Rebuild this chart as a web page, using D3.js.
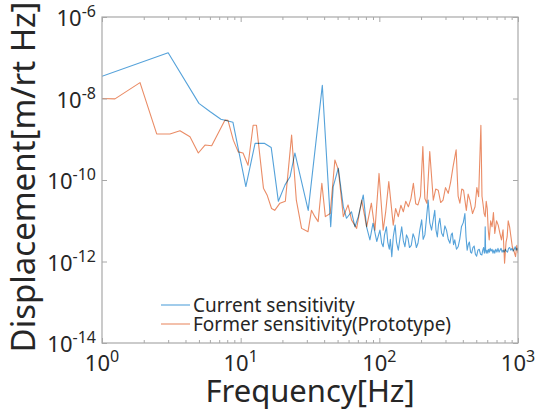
<!DOCTYPE html>
<html>
<head>
<meta charset="utf-8">
<script src="https://cdn.jsdelivr.net/npm/d3@7"></script>
<style>
  body { margin: 0; background: #fff; }
  svg { display: block; font-family: "Noto Sans", "DejaVu Sans", sans-serif; }
</style>
</head>
<body>
<svg id="chart" width="542" height="411"></svg>
<script>
// Current sensitivity: frequency [Hz] and displacement [m/rt Hz]
const currentFreq = [1, 3, 5, 6, 7.2, 8.8, 10.9, 12.7, 14.9, 16.6, 18.7, 20.9, 22.7, 24.6, 30.7, 38.8, 44.6, 46.5,
    50.6, 55, 58, 63, 66.7, 70.5, 76.6, 80.9, 85.5, 90, 95.8,
    101, 104, 106.6, 109, 112.5, 115, 118, 120, 123, 126, 130, 133, 137, 141, 145, 149, 153, 157, 161, 165,
    170, 175, 180, 185, 190, 196, 202, 207, 213, 219, 225, 231, 238, 244, 251, 256, 262, 267, 273, 281, 289,
    297, 305, 314, 323, 330, 336, 343, 350, 360, 370, 380, 391, 403, 414, 422, 430, 438, 446, 455, 463, 473,
    483, 493, 503, 514, 525, 537, 549, 557, 565, 572, 577, 580, 584, 590, 598, 606, 614, 622, 630, 640, 650,
    660, 670, 680, 692, 705, 717, 730, 742, 755, 768, 780, 795, 810, 825, 840, 855, 870, 888, 906, 922, 940,
    955, 970, 985, 1000];
const currentVal = [3.5e-8, 1.33e-7, 7.6e-9, 4.8e-9, 3.1e-9, 2.6e-9, 6.9e-11, 7.9e-10, 7.9e-10, 6.3e-10, 3.0e-11,
    7.6e-11, 1.2e-10, 4.6e-10, 1.8e-11, 2.1e-8, 7.1e-12, 6.9e-11,
    1.95e-10, 2.2e-11, 1.15e-11, 1.66e-11, 7.1e-12, 1.26e-11, 4.3e-11, 7.1e-12, 3.4e-12, 8.7e-12, 3.1e-12,
    5.9e-12, 2.8e-12, 2.3e-12, 4.5e-12, 7.1e-12, 3.0e-12, 2.0e-12, 3.5e-12, 1.32e-12, 4.0e-12, 7.8e-12, 3.0e-12,
    1.9e-12, 3.8e-12, 7.1e-12, 3.2e-12, 2.3e-12, 4.5e-12, 3.7e-12, 2.2e-12,
    2.5e-12, 4.8e-12, 3.7e-12, 2.2e-12, 2.8e-12, 6.0e-12, 1.05e-11, 3.5e-12, 4.5e-12, 1.2e-11, 3.2e-11, 9.0e-12,
    5.9e-12, 1.0e-11, 1.8e-11, 6.0e-12, 4.0e-12, 8.0e-12, 1.15e-11, 5.0e-12, 4.1e-12,
    7.5e-12, 5.9e-12, 3.5e-12, 2.8e-12, 4.5e-12, 5.0e-12, 2.6e-12, 3.4e-12, 2.0e-12, 2.3e-12, 3.5e-12, 7.1e-12,
    9.0e-12, 1.5e-11, 4.0e-12, 1.9e-12, 2.6e-12, 3.0e-12, 1.7e-12, 1.6e-12, 2.2e-12,
    2.4e-12, 1.5e-12, 1.35e-12, 1.9e-12, 2.0e-12, 1.5e-12, 1.45e-12, 1.9e-12, 2.2e-12, 1.6e-12, 2.0e-12, 7.1e-12,
    1.9e-12, 1.6e-12, 1.9e-12, 1.6e-12, 2.0e-12, 1.7e-12, 2.1e-12, 1.8e-12, 2.0e-12,
    1.6e-12, 1.9e-12, 1.6e-12, 2.0e-12, 1.7e-12, 2.1e-12, 1.7e-12, 1.9e-12, 2.1e-12, 1.7e-12, 1.9e-12, 1.7e-12,
    2.0e-12, 1.8e-12, 1.7e-12, 2.1e-12, 2.2e-12, 1.9e-12, 2.1e-12, 1.8e-12, 2.0e-12,
    2.3e-12, 1.9e-12, 2.1e-12, 1.9e-12];

// Former sensitivity (Prototype)
const formerFreq = [1, 1.24, 1.88, 2.48, 3.09, 3.65, 4.31, 4.95, 5.53, 6.18, 7.71, 8.1, 8.85, 9.6, 10.4, 11.3,
    12.3, 13, 14.6, 15.5, 16.7, 17.6, 19.2, 21, 23.3, 25.2, 27.5, 29, 30.6, 32.4, 34.3, 36.2, 38.5, 40.8, 44.2,
    47.8, 50.6, 55, 59.5, 63, 68.6, 74.6, 81, 87.6, 93, 99.5, 106.6, 111, 117, 126, 131, 137, 143, 149, 155,
    162, 169, 176, 183, 190, 198, 206, 213, 220, 231, 245, 255, 266, 277, 288, 300, 314, 327, 340, 358,
    370, 381, 393, 405, 424, 437, 450, 470, 490, 505, 520, 540, 550, 560, 570, 580, 590, 600, 610, 620, 635,
    650, 665, 680, 700, 720, 740, 760, 780, 800, 820, 835, 850, 870, 890, 910, 935, 960, 980, 1000];
const formerVal = [1.0e-8, 9.8e-9, 2.45e-8, 1.35e-9, 1.35e-9, 1.62e-9, 1.15e-9, 4.6e-10, 7.2e-10, 6.9e-10,
    2.95e-9, 2.9e-9, 9.5e-10, 4.9e-10, 4.6e-10, 2.3e-10,
    2.2e-9, 2.2e-9, 6.3e-11, 4.3e-11, 2.0e-11, 1.8e-11, 2.7e-11, 3.0e-11, 1.26e-9, 3.2e-11, 6.5e-12, 5.9e-12,
    5.4e-12, 1.8e-11, 1.26e-11, 9.5e-12, 8.3e-11, 1.26e-11, 1.5e-11,
    3.1e-10, 1.8e-10, 1.26e-11, 2.45e-11, 1.05e-11, 6.5e-12, 3.2e-11, 7.1e-12, 2.7e-11, 5.9e-12, 1.45e-10,
    5.9e-12, 1.6e-11, 9.1e-11, 7.8e-12, 2.0e-11, 1.26e-11, 2.4e-11, 1.66e-11, 3.0e-11,
    2.2e-11, 3.5e-11, 8.3e-11, 2.6e-11, 2.45e-11, 4.0e-11, 6.6e-10, 3.5e-11, 2.7e-11, 5.0e-10, 3.2e-11,
    6.0e-11, 5.6e-11, 2.8e-11, 3.2e-11, 6.5e-11, 4.7e-11, 9.0e-11, 2.1e-10, 5.5e-10,
    4.0e-11, 2.7e-11, 6.0e-11, 5.6e-11, 1.8e-11, 4.5e-11, 3.2e-11, 1.5e-11, 2.2e-11, 6.5e-11, 3.9e-11, 2.2e-9,
    4.0e-11, 2.5e-11, 1.5e-11, 1.26e-11, 3.0e-11, 2.0e-11, 6.0e-12, 3.4e-12, 1.0e-11,
    7.1e-12, 1.6e-11, 4.9e-12, 1.0e-11, 7.8e-12, 5.0e-12, 3.4e-12, 6.0e-12, 9.1e-13, 3.0e-12, 4.0e-12, 1.0e-11,
    7.1e-12, 4.0e-12, 2.3e-12, 1.8e-12, 1.32e-12, 2.5e-12, 1.6e-12];

// axis ticks
const xMajor = [1, 10, 100, 1000];
const xExp = ["0", "1", "2", "3"];
const yMajor = [1e-14, 1e-12, 1e-10, 1e-8, 1e-6];
const yExp = ["-14", "-12", "-10", "-8", "-6"];

const legendLabels = ["Current sensitivity", "Former sensitivity(Prototype)"];
const seriesColors = ["#55a2da", "#ea8c66"];

const svg = d3.select("#chart");
const mLeft = 102, mRight = 518, mTop = 17, mBottom = 343;

const x = d3.scaleLog().domain([1, 1000]).range([mLeft, mRight]);
const y = d3.scaleLog().domain([1e-14, 1e-6]).range([mBottom, mTop]);

// minor ticks 2..9 for each decade
const xMinor = [];
for (let d = 1; d < 1000; d *= 10) {
    for (let k = 2; k < 10; k++) xMinor.push(d * k);
}

const axisColor = "#a8a8a8";

// clip area for the lines
svg.append("clipPath").attr("id", "clip")
    .append("rect").attr("x", mLeft).attr("y", mTop)
    .attr("width", mRight - mLeft).attr("height", mBottom - mTop);

const lineGen = d3.line()
    .x(function(d) { return x(d[0]); })
    .y(function(d) { return y(d[1]); });

const plot = svg.append("g").attr("clip-path", "url(#clip)");
plot.append("path")
    .datum(d3.zip(currentFreq, currentVal))
    .attr("d", lineGen)
    .attr("fill", "none")
    .attr("stroke", seriesColors[0])
    .attr("stroke-width", 1.1)
    .attr("stroke-linejoin", "round");
plot.append("path")
    .datum(d3.zip(formerFreq, formerVal))
    .attr("d", lineGen)
    .attr("fill", "none")
    .attr("stroke", seriesColors[1])
    .attr("stroke-width", 1.1)
    .attr("stroke-linejoin", "round")
    .style("mix-blend-mode", "multiply");

// ticks on all four sides, pointing inward
function tickAxes(axisFn, scale, values, size, transform) {
    const g = svg.append("g")
        .attr("transform", transform)
        .call(axisFn(scale).tickValues(values).tickSize(size).tickFormat(""));
    g.select(".domain").remove();
    g.selectAll(".tick line").attr("stroke", axisColor);
}
tickAxes(d3.axisBottom, x, xMajor, -5, "translate(0," + mBottom + ")");
tickAxes(d3.axisBottom, x, xMinor, -3, "translate(0," + mBottom + ")");
tickAxes(d3.axisTop, x, xMajor, -5, "translate(0," + mTop + ")");
tickAxes(d3.axisTop, x, xMinor, -3, "translate(0," + mTop + ")");
tickAxes(d3.axisLeft, y, yMajor, -5, "translate(" + mLeft + ",0)");
tickAxes(d3.axisRight, y, yMajor, -5, "translate(" + mRight + ",0)");

// box
svg.append("rect")
    .attr("x", mLeft).attr("y", mTop)
    .attr("width", mRight - mLeft).attr("height", mBottom - mTop)
    .attr("fill", "none")
    .attr("stroke", axisColor)
    .attr("stroke-width", 1.2);

// tick labels with superscripts
const xLab = svg.append("g").selectAll("text")
    .data(xMajor)
    .enter().append("text")
    .attr("x", function(d) { return x(d); })
    .attr("y", 371)
    .attr("text-anchor", "middle")
    .attr("fill", "#262626")
    .attr("font-size", 22);
xLab.append("tspan").text("10");
xLab.append("tspan").attr("dy", -9).attr("font-size", 16)
    .text(function(d, i) { return xExp[i]; });

const yLab = svg.append("g").selectAll("text")
    .data(yMajor)
    .enter().append("text")
    .attr("x", 96)
    .attr("y", function(d) { return y(d) + 9; })
    .attr("text-anchor", "end")
    .attr("fill", "#262626")
    .attr("font-size", 22);
yLab.append("tspan").text("10");
yLab.append("tspan").attr("dy", -9).attr("font-size", 16)
    .text(function(d, i) { return yExp[i]; });

// axis titles
svg.append("text")
    .attr("x", (mLeft + mRight) / 2)
    .attr("y", 402)
    .attr("text-anchor", "middle")
    .attr("fill", "#262626")
    .attr("font-size", 31)
    .text("Frequency[Hz]");

svg.append("text")
    .attr("transform", "translate(35," + ((mTop + mBottom) / 2 - 3) + ") rotate(-90)")
    .attr("text-anchor", "middle")
    .attr("fill", "#262626")
    .attr("font-size", 33)
    .text("Displacement[m/rt Hz]");

// legend (no box)
const legend = svg.append("g").selectAll("g")
    .data(legendLabels)
    .enter().append("g")
    .attr("transform", function(d, i) { return "translate(161," + (305 + i * 19) + ")"; });
legend.append("line")
    .attr("x1", 0).attr("x2", 29)
    .attr("stroke", function(d, i) { return seriesColors[i]; })
    .attr("stroke-width", 1.1);
legend.append("text")
    .attr("x", 32)
    .attr("dy", "0.35em")
    .attr("fill", "#262626")
    .attr("font-size", 19)
    .text(function(d) { return d; });
</script>
</body>
</html>
